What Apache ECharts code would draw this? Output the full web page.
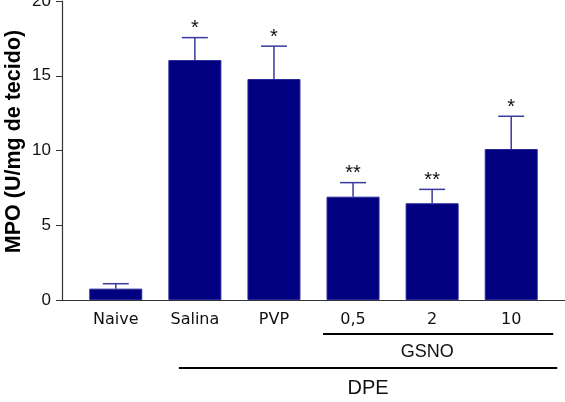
<!DOCTYPE html>
<html><head><meta charset="utf-8">
<script src="https://cdn.jsdelivr.net/npm/echarts@6/dist/echarts.min.js"></script>
<style>html,body{margin:0;padding:0;background:#fff}#c{width:565px;height:402px}</style>
</head><body><div id="c"></div>
<script>
var categories = ['Naive', 'Salina', 'PVP', '0,5', '2', '10'];
var means = [0.76, 16.05, 14.78, 6.91, 6.47, 10.1];
var sems = [0.33, 1.5, 2.2, 0.94, 0.93, 2.19];
var marks = ['', '*', '*', '**', '**', '*'];
var yTicks = [0, 5, 10, 15, 20];
var groupGSNO = {label: 'GSNO', from: 3, to: 5};
var groupDPE = {label: 'DPE', from: 1, to: 5};

var chart = echarts.init(document.getElementById('c'), null, {renderer: 'canvas'});
var barData = means.map(function (v, i) { return [i, v]; });
var errData = means.map(function (v, i) { return [i, v, v + sems[i], marks[i]]; });
var font = 'Liberation Sans, Arial, sans-serif';
var fontWide = 'DejaVu Sans, sans-serif';

chart.setOption({
  animation: false,
  grid: {left: 62, right: 0, top: 1, bottom: 102, containLabel: false, outerBoundsMode: 'none'},
  xAxis: {
    type: 'value', min: -0.68, max: 5.68,
    axisLine: {show: true, onZero: false, lineStyle: {color: '#333', width: 1.2}},
    axisTick: {show: false},
    splitLine: {show: false},
    axisLabel: {
      customValues: [0, 1, 2, 3, 4, 5],
      formatter: function (v) { return categories[Math.round(v)]; },
      color: '#111', fontSize: 16, fontFamily: fontWide, margin: 12
    }
  },
  yAxis: {
    type: 'value', min: 0, max: 20, interval: 5,
    name: 'MPO (U/mg de tecido)', nameLocation: 'middle', nameGap: 37,
    nameMoveOverlap: false,
    nameTextStyle: {fontSize: 21.5, fontWeight: 'bold', fontFamily: font, color: '#000',
      padding: [0, 0, 0, 18]},
    axisLine: {show: true, onZero: false, lineStyle: {color: '#333', width: 1.2}},
    axisTick: {show: true, inside: false, length: 6, lineStyle: {color: '#333'}},
    splitLine: {show: false},
    axisLabel: {color: '#111', fontSize: 17, fontFamily: font, margin: 11,
      formatter: function (v) { return yTicks.indexOf(v) >= 0 ? String(v) : ''; }}
  },
  series: [
    {
      type: 'bar', data: barData, barWidth: 53,
      itemStyle: {color: '#000080', borderColor: '#26269a', borderWidth: 1}
    },
    {
      type: 'custom', data: errData, z: 5,
      renderItem: function (params, api) {
        var x = api.value(0);
        var p0 = api.coord([x, api.value(1)]);
        var p1 = api.coord([x, api.value(2)]);
        var hw = 13;
        var children = [
          {type: 'line', shape: {x1: p0[0], y1: p0[1], x2: p1[0], y2: p1[1]},
            style: {stroke: '#3a3a9e', lineWidth: 1.5}},
          {type: 'line', shape: {x1: p1[0] - hw, y1: p1[1], x2: p1[0] + hw, y2: p1[1]},
            style: {stroke: '#3a3a9e', lineWidth: 1.5}}
        ];
        var m = marks[params.dataIndex];
        if (m) {
          children.push({type: 'text', x: p1[0], y: p1[1] + 1,
            style: {text: m, fill: '#111', fontSize: 20, fontFamily: font,
              align: 'center', verticalAlign: 'bottom'}});
        }
        return {type: 'group', children: children};
      }
    }
  ]
});

function drawGroups() {
  var y0 = chart.convertToPixel({gridIndex: 0}, [0, 0])[1];
  function px(i) { return chart.convertToPixel({gridIndex: 0}, [i, 0])[0]; }
  var g1a = px(groupGSNO.from) - 30, g1b = px(groupGSNO.to) + 42;
  var g2a = px(groupDPE.from) - 16, g2b = px(groupDPE.to) + 46;
  chart.setOption({graphic: [
    {type: 'line', shape: {x1: g1a, y1: y0 + 34, x2: g1b, y2: y0 + 34}, style: {stroke: '#000', lineWidth: 2}},
    {type: 'text', x: (px(groupGSNO.from) + px(groupGSNO.to)) / 2 - 5, y: y0 + 52,
      style: {text: groupGSNO.label, fontSize: 18, fontFamily: font, fill: '#111', align: 'center', verticalAlign: 'middle'}},
    {type: 'line', shape: {x1: g2a, y1: y0 + 68, x2: g2b, y2: y0 + 68}, style: {stroke: '#000', lineWidth: 2}},
    {type: 'text', x: (g2a + g2b) / 2, y: y0 + 88,
      style: {text: groupDPE.label, fontSize: 20, fontFamily: font, fill: '#111', align: 'center', verticalAlign: 'middle'}}
  ]});
}
drawGroups();
</script>
</body></html>
